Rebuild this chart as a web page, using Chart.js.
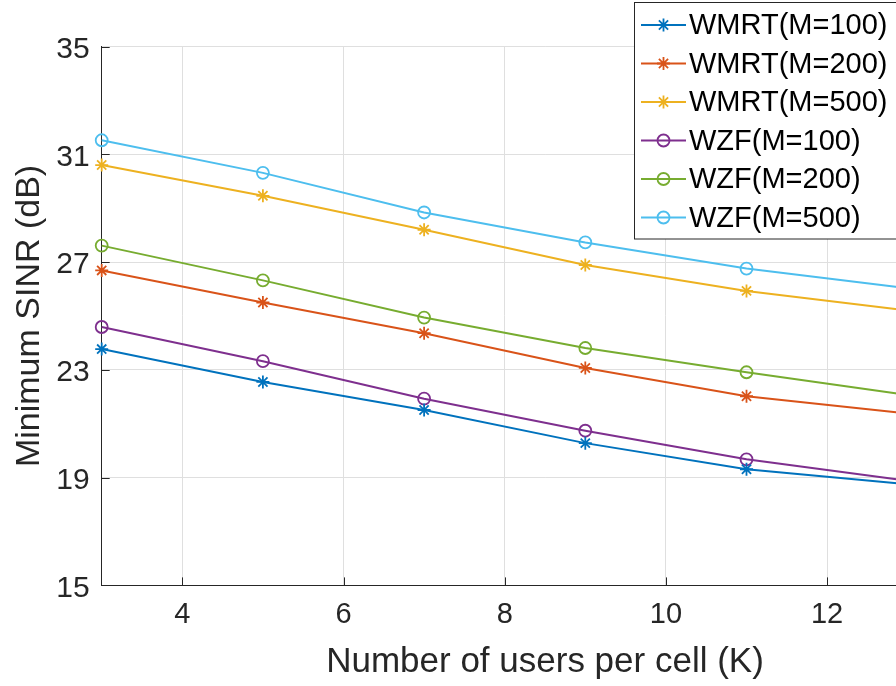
<!DOCTYPE html>
<html>
<head>
<meta charset="utf-8">
<script src="https://cdn.jsdelivr.net/npm/chart.js@4/dist/chart.umd.min.js"></script>
<style>
  html, body { margin: 0; padding: 0; background: #ffffff; overflow: hidden; }
  #wrap { position: relative; width: 1000px; height: 686px; }
  canvas { display: block; }
</style>
</head>
<body>
<div id="wrap"><canvas id="c" width="1000" height="686"></canvas></div>
<script>
// Users per cell (K) and minimum SINR (dB) per scheme / antenna count
const kValues = [3, 5, 7, 9, 11, 13];
const wmrt100 = [23.77, 22.55, 21.51, 20.28, 19.31, 18.75];
const wmrt200 = [26.69, 25.50, 24.36, 23.07, 22.02, 21.38];
const wmrt500 = [30.60, 29.46, 28.20, 26.89, 25.93, 25.20];
const wzf100  = [24.59, 23.32, 21.93, 20.74, 19.68, 18.88];
const wzf200  = [27.61, 26.32, 24.94, 23.81, 22.91, 22.07];
const wzf500  = [31.52, 30.31, 28.84, 27.73, 26.76, 26.03];

const seriesLabels = ['WMRT(M=100)', 'WMRT(M=200)', 'WMRT(M=500)', 'WZF(M=100)', 'WZF(M=200)', 'WZF(M=500)'];
const xTickValues = [4, 6, 8, 10, 12];
const yTickValues = [15, 19, 23, 27, 31, 35];

const FONT = '"Liberation Sans", Arial, Helvetica, sans-serif';
const AXIS_COLOR = '#262626';
const GRID_COLOR = '#dfdfdf';

const seriesValues = [wmrt100, wmrt200, wmrt500, wzf100, wzf200, wzf500];
const seriesColors = ['#0072BD', '#D95319', '#EDB120', '#7E2F8E', '#77AC30', '#4DBEEE'];
const seriesMarkers = ['star', 'star', 'star', 'circle', 'circle', 'circle'];

const datasets = seriesValues.map((vals, i) => ({
  label: seriesLabels[i],
  data: vals.map((v, j) => ({ x: kValues[j], y: v })),
  borderColor: seriesColors[i],
  backgroundColor: 'rgba(0,0,0,0)',
  pointBorderColor: seriesColors[i],
  pointBackgroundColor: 'rgba(0,0,0,0)',
  pointStyle: seriesMarkers[i],
  pointRadius: seriesMarkers[i] === 'star' ? 6.5 : 6,
  pointBorderWidth: 1.8,
  borderWidth: 2,
  tension: 0,
  clip: false
}));

// Inward tick marks on the left and bottom axes
const innerTicks = {
  id: 'innerTicks',
  beforeDatasetsDraw(chart) {
    const { ctx, chartArea } = chart;
    const xs = chart.scales.x, ys = chart.scales.y;
    const len = 8;
    ctx.save();
    ctx.strokeStyle = AXIS_COLOR;
    ctx.lineWidth = 1;
    ctx.beginPath();
    yTickValues.forEach(v => {
      const py = Math.round(ys.getPixelForValue(v)) + 0.5;
      ctx.moveTo(chartArea.left, py);
      ctx.lineTo(chartArea.left + len, py);
    });
    xTickValues.forEach(v => {
      const px = Math.round(xs.getPixelForValue(v)) + 0.5;
      ctx.moveTo(px, chartArea.bottom);
      ctx.lineTo(px, chartArea.bottom - len);
    });
    ctx.stroke();
    ctx.restore();
  }
};

// Boxed legend with line + marker samples, top right
const boxLegend = {
  id: 'boxLegend',
  afterDraw(chart) {
    const { ctx } = chart;
    const left = 634.5, top = 2.5, width = 300, height = 236.5;
    const rowTop = 25, rowStep = 38.5;
    ctx.save();
    ctx.fillStyle = '#ffffff';
    ctx.fillRect(left, top, width, height);
    ctx.strokeStyle = AXIS_COLOR;
    ctx.lineWidth = 1;
    ctx.strokeRect(left, top, width, height);
    chart.data.datasets.forEach((ds, i) => {
      const cy = rowTop + i * rowStep;
      ctx.strokeStyle = ds.borderColor;
      ctx.lineWidth = 2;
      ctx.beginPath();
      ctx.moveTo(641, cy);
      ctx.lineTo(686, cy);
      ctx.stroke();
      ctx.fillStyle = 'rgba(0,0,0,0)';
      ctx.lineWidth = ds.pointBorderWidth;
      Chart.helpers.drawPoint(ctx, {
        pointStyle: ds.pointStyle,
        radius: ds.pointRadius,
        borderWidth: ds.pointBorderWidth,
        rotation: 0
      }, 663.5, cy);
      ctx.fillStyle = '#000000';
      ctx.font = '29px ' + FONT;
      ctx.textAlign = 'left';
      ctx.textBaseline = 'middle';
      ctx.fillText(ds.label, 689, cy + 1);
    });
    ctx.restore();
  }
};

new Chart(document.getElementById('c'), {
  type: 'line',
  data: { datasets },
  options: {
    responsive: false,
    animation: false,
    devicePixelRatio: 1,
    layout: { padding: { left: 0, right: 11.7, top: 46.5, bottom: 0 } },
    plugins: {
      legend: { display: false },
      tooltip: { enabled: false }
    },
    scales: {
      x: {
        type: 'linear',
        min: 3,
        max: 14,
        afterBuildTicks: (axis) => { axis.ticks = xTickValues.map(v => ({ value: v })); },
        afterFit: (axis) => { axis.height = 100.6; },
        grid: { color: GRID_COLOR, lineWidth: 1, drawTicks: false },
        border: { display: true, color: AXIS_COLOR, width: 1 },
        ticks: {
          color: AXIS_COLOR,
          font: { family: FONT, size: 29 },
          padding: 12,
          maxRotation: 0
        },
        title: {
          display: true,
          text: 'Number of users per cell (K)',
          color: AXIS_COLOR,
          font: { family: FONT, size: 35 },
          padding: { top: 0, bottom: 3 }
        }
      },
      y: {
        type: 'linear',
        min: 15,
        max: 35,
        afterBuildTicks: (axis) => { axis.ticks = yTickValues.map(v => ({ value: v })); },
        afterFit: (axis) => { axis.width = 101.7; },
        grid: { color: GRID_COLOR, lineWidth: 1, drawTicks: false },
        border: { display: true, color: AXIS_COLOR, width: 1 },
        ticks: {
          color: AXIS_COLOR,
          font: { family: FONT, size: 30 },
          padding: 12,
          labelOffset: 3
        },
        title: {
          display: true,
          text: 'Minimum SINR (dB)',
          color: AXIS_COLOR,
          font: { family: FONT, size: 34 },
          padding: { top: 9, bottom: 0 }
        }
      }
    }
  },
  plugins: [innerTicks, boxLegend]
});
</script>
</body>
</html>
